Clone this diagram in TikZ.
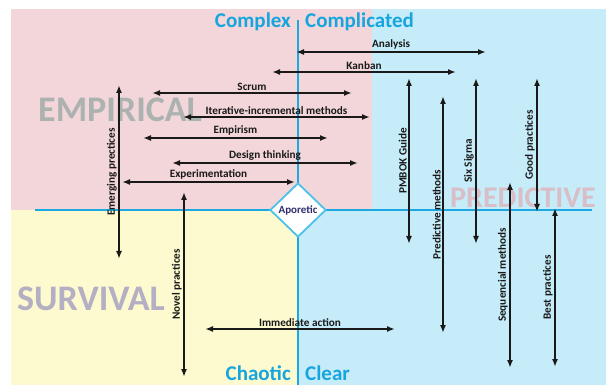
\documentclass[tikz,border=0pt]{standalone}
\usepackage{fontspec}
\setmainfont{Carlito}
\usetikzlibrary{arrows.meta,shapes.geometric}

\definecolor{zonePink}{HTML}{F3D6D9}
\definecolor{zoneBlue}{HTML}{C6ECF9}
\definecolor{zoneYellow}{HTML}{FDFAD0}
\definecolor{axisCyan}{HTML}{1CA9E1}
\definecolor{titleCyan}{HTML}{16A5DE}
\definecolor{diamondCyan}{HTML}{4CC1EA}
\definecolor{inkNavy}{HTML}{2F2D6E}
\definecolor{wordGrey}{HTML}{ACB2B0}
\definecolor{wordLilac}{HTML}{B4AFC2}
\definecolor{wordRose}{HTML}{D8BEC6}

\begin{document}
\begin{tikzpicture}[x=1pt,y=-1pt,
  axis/.style={draw=axisCyan, line width=1.6pt},
  span/.style={{Latex[length=8pt,width=6pt]}-{Latex[length=8pt,width=6pt]}, line width=1.6pt, draw=black!90},
  lbl/.style={font=\bfseries\fontsize{11.2}{13}\selectfont, text=black!90, inner sep=1.5pt},
  zone/.style={font=\bfseries\fontsize{21}{24}\selectfont, text=titleCyan, inner sep=0pt},
  bigword/.style={font=\bfseries\fontsize{36}{40}\selectfont, inner sep=0pt},
]

\useasboundingbox (0,0) rectangle (606,385);
\clip (0,0) rectangle (606,385);

% quadrant backgrounds
\fill[zonePink]   (11,9)    rectangle (372,210);
\fill[zoneBlue]   (372,9)   rectangle (606,210);
\fill[zoneBlue]   (298,210) rectangle (606,385);
\fill[zoneYellow] (11,210)  rectangle (298,385);

% large zone words
\node[bigword, text=wordGrey, anchor=base west] (empirical) at (38,122) {EMPIRICAL};
\node[bigword, text=wordLilac, anchor=base west] (survival) at (17,310) {SURVIVAL};
\node[bigword, text=wordRose, anchor=base west, font=\bfseries\fontsize{30}{34}\selectfont] (predictive) at (450,208) {PREDICTIVE};

% axes
\coordinate (hx-w) at (35,210);
\coordinate (hx-e) at (592,210);
\coordinate (vx-n) at (298,20);
\coordinate (vx-s) at (298,385);
\draw[axis] (hx-w) -- (hx-e);
\draw[axis, line width=2pt] (vx-n) -- (vx-s);

% domain titles
\node[zone, anchor=base east] (complex) at (291,28) {Complex};
\node[zone, anchor=base west] (complicated) at (305,28) {Complicated};
\node[zone, anchor=base east] (chaotic) at (291,381) {Chaotic};
\node[zone, anchor=base west] (clear) at (305,381) {Clear};

% horizontal spans
\foreach \n/\y/\a/\b/\t in {
  analysis/52/296/486/Analysis,
  kanban/72/272/456/Kanban,
  scrum/93/152/352/Scrum,
  iterative/117/183/370/Iterative-incremental methods,
  empirism/138/143/328/Empirism,
  design/163/172/358/Design thinking,
  experiment/182/122/295/Experimentation,
  immediate/329/205/395/Immediate action}{
  \coordinate (\n-w) at (\a,\y);
  \coordinate (\n-e) at (\b,\y);
  \draw[span] (\n-w) -- node[lbl, above] (\n-label) {\t} (\n-e);
}

% vertical spans
\foreach \n/\x/\ya/\yb/\t in {
  emerging/119/259/85/Emerging prectices,
  novel/184/377/192/Novel practices,
  pmbok/409/244/78/PMBOK Guide,
  predmeth/443/333/96/Predictive methods,
  sixsigma/476/244/78/Six Sigma,
  good/537/212/78/Good practices,
  sequencial/510/368/182/Sequencial methods,
  best/555/367/208/Best practices}{
  \coordinate (\n-s) at (\x,\ya);
  \coordinate (\n-n) at (\x,\yb);
  \draw[span] (\n-s) -- node[lbl, above, sloped] (\n-label) {\t} (\n-n);
}

% centre diamond
\node[diamond, draw=diamondCyan, line width=1.8pt, fill=white,
      minimum width=56pt, minimum height=54pt, inner sep=0pt,
      font=\bfseries\fontsize{11}{13}\selectfont, text=inkNavy] (aporetic) at (298,210) {Aporetic};

\end{tikzpicture}
\end{document}
